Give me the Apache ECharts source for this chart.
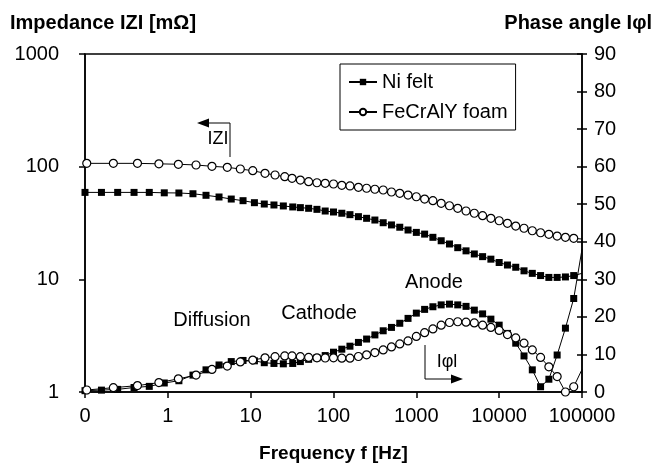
<!DOCTYPE html>
<html>
<head>
<meta charset="utf-8">
<script src="https://cdn.jsdelivr.net/npm/echarts@6/dist/echarts.min.js"></script>
<style>
  html, body { margin: 0; padding: 0; background: #fff; }
  #chart { width: 663px; height: 468px; }
</style>
</head>
<body>
<div id="chart"></div>
<script>
// frequencies [Hz] and readings, Ni felt
const niFreq = [0.1, 0.158, 0.248, 0.391, 0.597, 0.906, 1.36, 2.01, 2.89, 4.15, 5.83, 8.09, 11.1, 14.6, 19.1, 24.8, 32.2,
  39.8, 50.1, 63.1, 79.4, 100, 126, 158, 200, 251, 316, 398, 501, 631, 794, 1000, 1259, 1585, 1995, 2512, 3162,
  3981, 5012, 6310, 7943, 10000, 12589, 15849, 19953, 25119, 31623, 39811, 50119, 63096, 79433, 100000]
const niZ = [59.1, 59.1, 59.1, 59.1, 59.1, 58.6, 58.4, 57.5, 55.7, 53.8, 51.6, 49.9, 47.9, 46.6, 45.7, 44.8, 43.9,
  43.3, 42.7, 41.8, 40.4, 39.6, 38.6, 37.5, 36.0, 34.8, 33.6, 31.8, 30.4, 29.0, 27.4, 26.1, 25.2, 23.6, 22.0, 20.6,
  19.1, 17.9, 16.8, 15.9, 15.1, 14.1, 13.4, 12.8, 11.9, 11.3, 10.8, 10.4, 10.4, 10.5, 10.8, 11.3]
const niPhase = [0.35, 0.5, 0.7, 1.2, 1.5, 2.4, 3.0, 4.5, 5.9, 7.2, 8.1, 8.4, 8.3, 7.8, 7.6, 7.5, 7.6,
  8.1, 8.7, 9.1, 9.7, 10.6, 11.4, 12.2, 13.2, 14.1, 15.2, 16.3, 17.2, 18.3, 19.6, 21.0, 22.0, 22.7, 23.2, 23.4,
  23.2, 22.8, 21.8, 20.8, 19.4, 17.8, 15.6, 13.0, 9.6, 5.9, 1.4, 3.4, 9.85, 17.0, 24.9, 38]

// FeCrAlY foam
const feFreq = [0.105, 0.22, 0.43, 0.78, 1.34, 2.19, 3.41, 5.22, 7.5, 10.6, 14.9, 19.7, 25.8, 31.6,
  39.8, 50.1, 63.1, 79.4, 100, 126, 158, 200, 251, 316, 398, 501, 631, 794, 1000, 1259, 1585, 1995, 2512, 3162,
  3981, 5012, 6310, 7943, 10000, 12589, 15849, 19953, 25119, 31623, 39811, 50119, 63096, 79433, 100000]
const feZ = [107, 107, 107, 106, 105, 103.5, 100.7, 98.7, 95.3, 92.1, 87.3, 84.3, 81.5, 78.8,
  76.1, 73.6, 72.0, 71.2, 70.2, 68.3, 67.4, 65.6, 64.3, 63.0, 62.1, 59.6, 58.0, 56.0, 54.1, 51.6, 49.9, 47.3,
  45.0, 42.7, 40.4, 38.6, 36.7, 34.8, 33.1, 31.4, 29.7, 28.4, 27.0, 25.9, 25.1, 24.2, 23.6, 23.1, 22.8]
const fePhase = [0.53, 1.15, 1.7, 2.5, 3.5, 4.5, 6.0, 6.9, 8.0, 8.5, 9.1, 9.4, 9.6, 9.6,
  9.4, 9.2, 9.1, 9.05, 9.1, 9.0, 9.0, 9.45, 9.9, 10.5, 11.2, 12.0, 12.8, 13.6, 14.8, 15.8, 16.8, 17.8,
  18.5, 18.7, 18.6, 18.4, 17.8, 17.2, 16.4, 15.3, 14.4, 13.0, 11.2, 9.2, 6.7, 4.1, 0.0, 1.4, 6]

const xTicks = ['0', '1', '10', '100', '1000', '10000', '100000']
const zTicks = ['1', '10', '100', '1000']

const font = 'Liberation Sans, Arial, sans-serif'

// last reading has no marker, the line just runs on to the axis
let pairs = (fs, vs) => fs.map((f, i) => i === fs.length - 1 ? { value: [f, vs[i]], symbol: 'none' } : [f, vs[i]])

let niStyle = {
  type: 'line', symbol: 'rect', symbolSize: 7, xAxisIndex: 0,
  lineStyle: { color: '#000', width: 1 },
  itemStyle: { color: '#000' },
  emphasis: { disabled: true }, animation: false
}
let feStyle = {
  type: 'line', symbol: 'circle', symbolSize: 8, xAxisIndex: 0,
  lineStyle: { color: '#000', width: 1 },
  itemStyle: { color: '#fff', borderColor: '#000', borderWidth: 1.2 },
  emphasis: { disabled: true }, animation: false
}

const chart = echarts.init(document.getElementById('chart'), null, { renderer: 'canvas' })

const option = {
  backgroundColor: '#fff',
  textStyle: { fontFamily: font, color: '#000' },
  grid: { left: 85, right: 81, top: 54, bottom: 76, show: true, borderColor: '#000', borderWidth: 1.5 },
  legend: {
    data: ['Ni felt', 'FeCrAlY foam'],
    orient: 'vertical', left: 340, top: 64,
    borderColor: '#000', borderWidth: 1, padding: [8, 8, 8, 8],
    itemGap: 10, itemWidth: 28, itemHeight: 8,
    textStyle: { fontSize: 20, fontFamily: font, color: '#000' }
  },
  xAxis: {
    type: 'log', logBase: 10, min: 0.1, max: 100000, splitNumber: 6,
    name: 'Frequency f [Hz]', nameLocation: 'middle', nameGap: 52,
    nameTextStyle: { fontSize: 19, fontWeight: 'bold', fontFamily: font, color: '#000' },
    axisLine: { lineStyle: { color: '#000', width: 1.5 } },
    axisTick: { length: 6, lineStyle: { color: '#000', width: 1.5 } },
    splitLine: { show: false },
    axisLabel: {
      fontSize: 20, color: '#000', fontFamily: font, margin: 14,
      formatter: (v) => xTicks[Math.round(Math.log10(v)) + 1]
    }
  },
  yAxis: [
    {
      type: 'log', logBase: 10, min: 1, max: 1000, splitNumber: 3, position: 'left',
      axisLine: { show: true, lineStyle: { color: '#000', width: 1.5 } },
      axisTick: { length: 6, lineStyle: { color: '#000', width: 1.5 } },
      splitLine: { show: false },
      axisLabel: {
        fontSize: 20, color: '#000', fontFamily: font, margin: 26,
        formatter: (v) => zTicks[Math.round(Math.log10(v))]
      }
    },
    {
      type: 'value', min: 0, max: 90, interval: 10, position: 'right',
      axisLine: { show: true, lineStyle: { color: '#000', width: 1.5 } },
      axisTick: { length: 5, lineStyle: { color: '#000', width: 1.5 } },
      splitLine: { show: false },
      axisLabel: { fontSize: 20, color: '#000', fontFamily: font, margin: 12 }
    },
    {
      // inner half of the crossing ticks on the phase axis
      type: 'value', min: 0, max: 90, interval: 10, position: 'right',
      axisLine: { show: false },
      axisTick: { inside: true, length: 5, lineStyle: { color: '#000', width: 1.5 } },
      splitLine: { show: false },
      axisLabel: { show: false }
    }
  ],
  series: [
    { ...niStyle, name: 'Ni felt', yAxisIndex: 0, data: pairs(niFreq, niZ) },
    { ...niStyle, name: 'Ni felt', yAxisIndex: 1, data: pairs(niFreq, niPhase) },
    { ...feStyle, name: 'FeCrAlY foam', yAxisIndex: 0, data: pairs(feFreq, feZ) },
    { ...feStyle, name: 'FeCrAlY foam', yAxisIndex: 1, data: pairs(feFreq, fePhase) }
  ],
  graphic: [
    { type: 'text', left: 10, top: 13, style: { text: 'Impedance IZI [mΩ]', font: 'bold 20px ' + font, fill: '#000' } },
    { type: 'text', right: 11, top: 13, style: { text: 'Phase angle Iφl', font: 'bold 20px ' + font, fill: '#000' } },
    { type: 'text', x: 212, y: 320, style: { text: 'Diffusion', font: '20px ' + font, fill: '#000', align: 'center', verticalAlign: 'middle' } },
    { type: 'text', x: 319, y: 313, style: { text: 'Cathode', font: '20px ' + font, fill: '#000', align: 'center', verticalAlign: 'middle' } },
    { type: 'text', x: 434, y: 282, style: { text: 'Anode', font: '20px ' + font, fill: '#000', align: 'center', verticalAlign: 'middle' } },
    { type: 'text', x: 218, y: 139, style: { text: 'IZI', font: '18px ' + font, fill: '#000', align: 'center', verticalAlign: 'middle' } },
    { type: 'text', x: 447, y: 362, style: { text: 'Iφl', font: '18px ' + font, fill: '#000', align: 'center', verticalAlign: 'middle' } },
    { type: 'polyline', shape: { points: [[230, 157], [230, 123], [206, 123]] }, style: { stroke: '#000', lineWidth: 1, fill: null } },
    { type: 'polygon', shape: { points: [[197, 123], [209, 118.5], [209, 127.5]] }, style: { fill: '#000' } },
    { type: 'polyline', shape: { points: [[425, 345], [425, 379], [453, 379]] }, style: { stroke: '#000', lineWidth: 1, fill: null } },
    { type: 'polygon', shape: { points: [[463, 379], [451, 374.5], [451, 383.5]] }, style: { fill: '#000' } }
  ]
}

chart.setOption(option)
</script>
</body>
</html>
